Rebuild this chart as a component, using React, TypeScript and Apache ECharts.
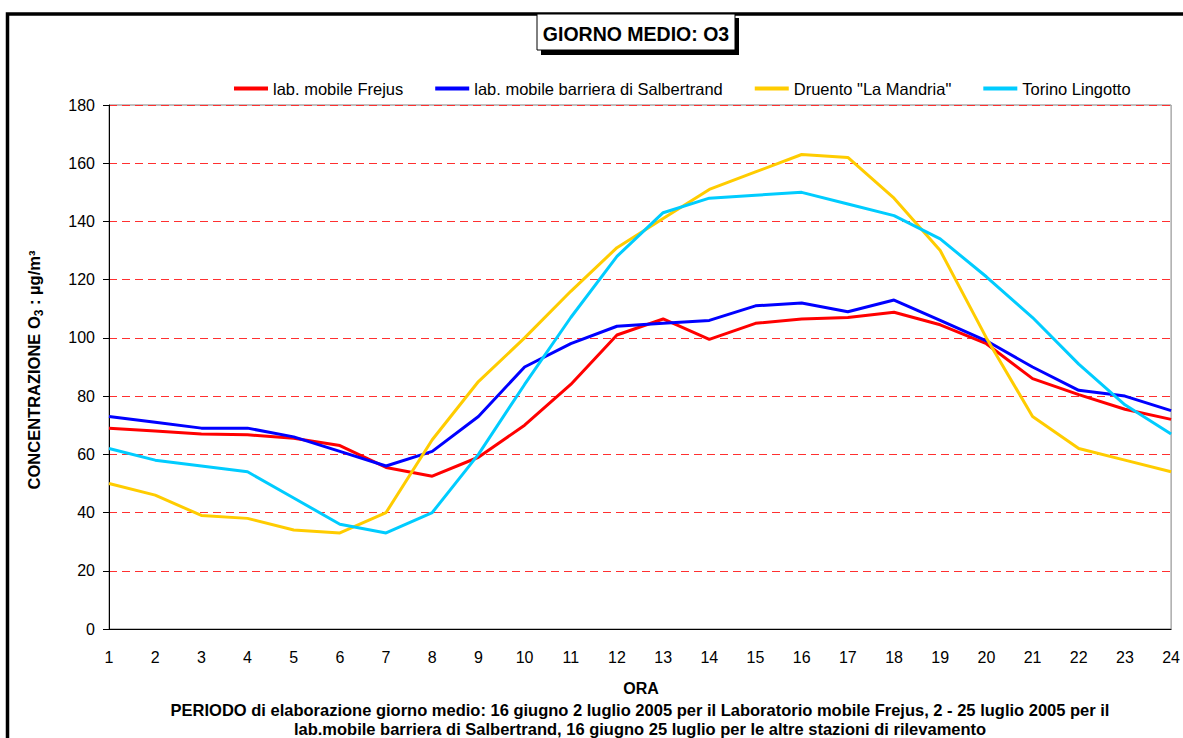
import React, { useEffect, useRef } from "react";
import * as echarts from "echarts";

const hours = ["1","2","3","4","5","6","7","8","9","10","11","12","13","14","15","16","17","18","19","20","21","22","23","24"];
const frejus = [69, 68, 67, 66.7, 65.5, 63, 55.5, 52.5, 59, 70, 84, 101, 106.5, 99.5, 105, 106.5, 107, 108.8, 104.5, 98, 86, 80.5, 75.5, 72];
const salbertrand = [73, 71, 69, 69, 66, 61, 56, 61, 73, 90, 98, 104, 105, 106, 111, 112, 109, 113, 106, 99, 90, 82, 80, 75];
const druento = [50, 46, 39, 38, 34, 33, 40, 65, 85, 100, 116, 131, 141, 151, 157, 163, 162, 148, 130, 100, 73, 62, 58, 54];
const torino = [62, 58, 56, 54, 45, 36, 33, 40, 60, 84, 107, 128, 143, 148, 149, 150, 146, 142, 134, 121, 107, 91, 77, 67];
const seriesNames = ["lab. mobile Frejus", "lab. mobile barriera di Salbertrand", "Druento \"La Mandria\"", "Torino Lingotto"];
const seriesColors = ["#FF0000", "#0000FF", "#FFCC00", "#00CCFF"];
const yTicks = { min: 0, max: 180, interval: 20 };
const titleText = "GIORNO MEDIO: O3";
const xName = "ORA";
const noteLine1 = "PERIODO di elaborazione giorno medio: 16 giugno 2 luglio 2005 per il Laboratorio mobile Frejus, 2 - 25 luglio 2005 per il";
const noteLine2 = "lab.mobile barriera di Salbertrand, 16 giugno 25 luglio per le altre stazioni di rilevamento";

const FONT = "'Liberation Sans', Arial, Helvetica, sans-serif";

export default function App() {
  const ref = useRef<HTMLDivElement>(null);
  useEffect(() => {
    if (!ref.current) return;
    const chart = echarts.init(ref.current, undefined, { renderer: "svg" });
    const data = [frejus, salbertrand, druento, torino];
    chart.setOption({
      animation: false,
      backgroundColor: "#ffffff",
      textStyle: { fontFamily: FONT },
      grid: { left: 109, right: 10, top: 105, bottom: 109, show: true, borderColor: "#808080", borderWidth: 1, backgroundColor: "transparent" },
      legend: {
        top: 75,
        left: 229,
        itemWidth: 34,
        itemHeight: 4,
        itemGap: 32,
        icon: "rect",
        textStyle: { fontSize: 16.5, color: "#000", fontFamily: FONT },
        data: seriesNames.map((n) => ({ name: n, icon: "rect" })),
      },
      xAxis: {
        type: "category",
        data: hours,
        boundaryGap: false,
        axisLine: { lineStyle: { color: "#000", width: 1 } },
        axisTick: { show: false },
        axisLabel: { fontSize: 16, color: "#000", margin: 20, fontFamily: FONT },
        splitLine: { show: false },
      },
      yAxis: {
        type: "value",
        min: yTicks.min,
        max: yTicks.max,
        interval: yTicks.interval,
        axisLine: { show: true, lineStyle: { color: "#000", width: 1 } },
        axisTick: { show: true, length: 6, lineStyle: { color: "#000" } },
        axisLabel: { fontSize: 16, color: "#000", margin: 14, fontFamily: FONT },
        splitLine: { show: true, lineStyle: { color: "#FF3030", type: [8, 5], width: 1 } },
      },
      series: seriesNames.map((n, i) => ({
        name: n,
        type: "line",
        data: data[i],
        symbol: "none",
        lineStyle: { color: seriesColors[i], width: 3 },
        itemStyle: { color: seriesColors[i] },
      })),
      graphic: [
        { type: "rect", shape: { x: 7.5, y: 14, width: 1300, height: 900 }, style: { fill: "none", stroke: "#000", lineWidth: 3.5 }, z: 100 },
        { type: "rect", shape: { x: 541, y: 18, width: 198, height: 37 }, style: { fill: "#000" }, z: 100 },
        { type: "rect", shape: { x: 537, y: 14, width: 198, height: 36 }, style: { fill: "#fff", stroke: "#000", lineWidth: 1 }, z: 101 },
        { type: "text", x: 636, y: 34, style: { text: titleText, fontSize: 19.5, fontWeight: "bold", fill: "#000", align: "center", verticalAlign: "middle", fontFamily: FONT }, z: 102 },
        {
          type: "text", x: 34, y: 370, rotation: Math.PI / 2,
          style: {
            text: "{b|CONCENTRAZIONE O}{s|3}{b| : µg/m³}",
            align: "center", verticalAlign: "middle", fill: "#000",
            rich: {
              b: { fontSize: 16.5, fontWeight: "bold", fontFamily: FONT, fill: "#000", lineHeight: 22, verticalAlign: "middle" },
              s: { fontSize: 12, fontWeight: "bold", fontFamily: FONT, fill: "#000", lineHeight: 22, verticalAlign: "bottom", padding: [10, 0, 0, 0] },
            },
          },
        },
        { type: "text", x: 641, y: 688, style: { text: xName, fontSize: 16, fontWeight: "bold", fill: "#000", align: "center", verticalAlign: "middle", fontFamily: FONT } },
        { type: "text", x: 640, y: 710, style: { text: noteLine1, fontSize: 16.5, fontWeight: "bold", fill: "#000", align: "center", verticalAlign: "middle", fontFamily: FONT } },
        { type: "text", x: 640, y: 729, style: { text: noteLine2, fontSize: 16.5, fontWeight: "bold", fill: "#000", align: "center", verticalAlign: "middle", fontFamily: FONT } },
      ],
    });
    return () => chart.dispose();
  }, []);
  return <div ref={ref} style={{ position: "absolute", left: 0, top: 0, width: 1183, height: 738, background: "#fff" }} />;
}
